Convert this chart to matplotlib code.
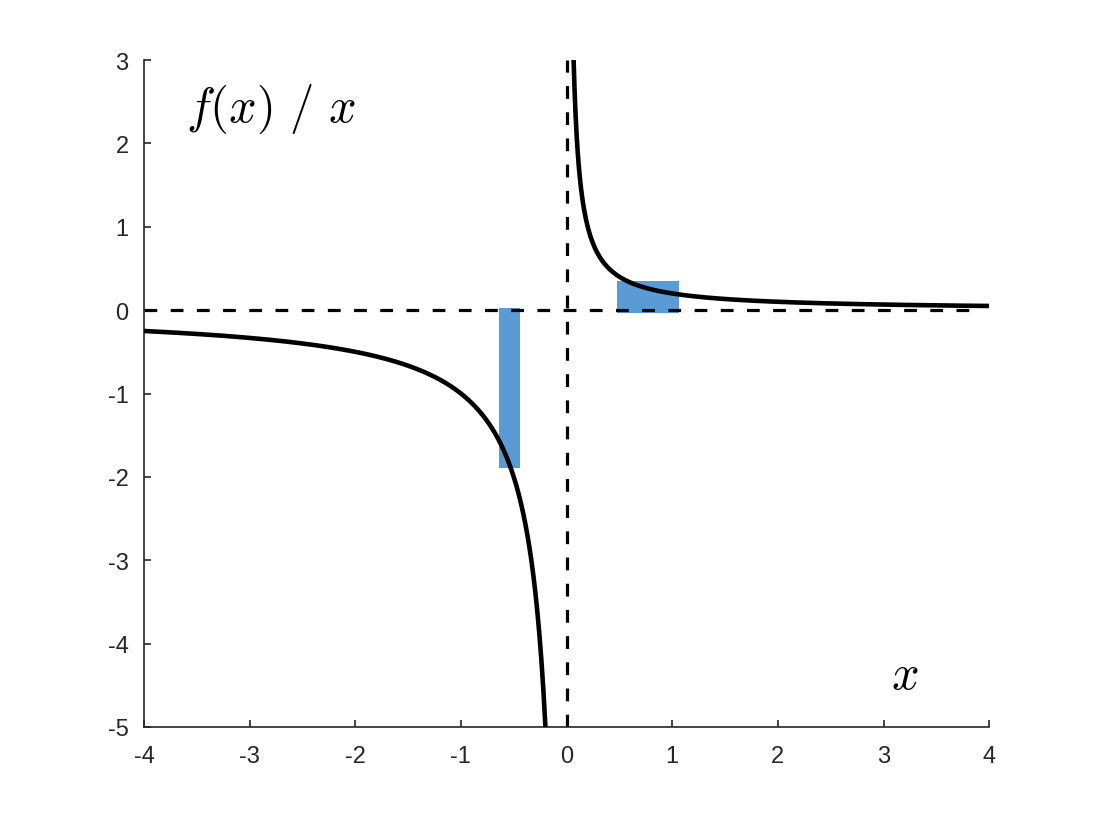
import numpy as np
import matplotlib.pyplot as plt

plt.rcParams['mathtext.fontset'] = 'cm'
plt.rcParams['font.family'] = ['Liberation Sans', 'DejaVu Sans']
plt.rcParams['axes.unicode_minus'] = False

# curve: f(x)/x = k / x, different scale on each side of zero
k_neg = 1.0
k_pos = 0.2
x_neg_range = (-4.0, -0.2)
x_pos_range = (0.066, 4.0)

# blue bars: (x_left, x_right, y_bottom, y_top)
bars = [(-0.644, -0.445, -1.89, 0.02),
        (0.48, 1.06, -0.035, 0.345)]

xticks = [-4, -3, -2, -1, 0, 1, 2, 3, 4]
yticks = [-5, -4, -3, -2, -1, 0, 1, 2, 3]

fig = plt.figure(figsize=(10.93, 8.2), dpi=100)
ax = fig.add_axes([0.1317, 0.1122, 0.7733, 0.8134])

# bars behind everything
for x0, x1, y0, y1 in bars:
    ax.fill_between([x0, x1], y0, y1, color='#5B9BD5', lw=0, zorder=1)

# dashed axes lines
ax.plot([-4, 3.93], [0, 0], color='black', ls=(0, (4, 4.2)), lw=2.3, zorder=2)
ax.plot([0, 0], [-5, 3], color='black', ls=(0, (4, 4.2)), lw=2.3, zorder=2)

xn = np.linspace(x_neg_range[0], x_neg_range[1], 400)
xp = np.linspace(x_pos_range[0], x_pos_range[1], 400)
ax.plot(xn, k_neg / xn, color='black', lw=3.3, zorder=3)
ax.plot(xp, k_pos / xp, color='black', lw=3.3, zorder=3)

ax.text(-3.6, 2.42, r'$f(x)\ /\ x$', fontsize=35, va='center', ha='left')
ax.text(3.07, -4.38, r'$x$', fontsize=35, va='center', ha='left')

ax.set_xlim(-4, 4)
ax.set_ylim(-5, 3)
ax.set_xticks(xticks)
ax.set_yticks(yticks)
for s in ['top', 'right']:
    ax.spines[s].set_visible(False)
for s in ['left', 'bottom']:
    ax.spines[s].set_color('#262626')
    ax.spines[s].set_linewidth(1.2)
ax.tick_params(direction='in', length=5, width=1.2, colors='#262626',
               labelsize=17)
ax.tick_params(axis='x', pad=13)
ax.tick_params(axis='y', pad=11)

fig.savefig('out.png', dpi=100)
